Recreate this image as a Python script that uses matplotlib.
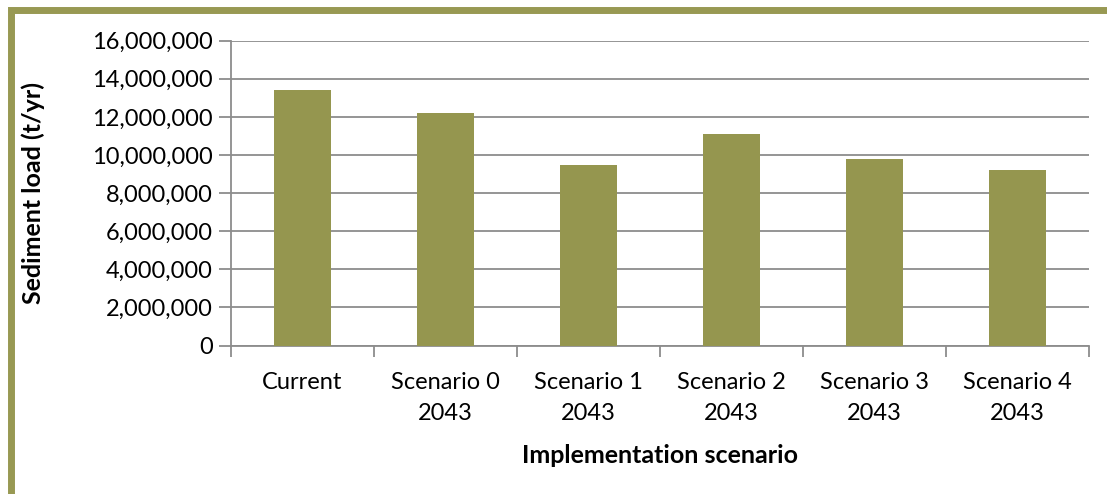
import matplotlib.pyplot as plt
from matplotlib.patches import Rectangle
from matplotlib.ticker import FuncFormatter, FixedLocator

# Data
categories = ["Current", "Scenario 0\n2043", "Scenario 1\n2043",
              "Scenario 2\n2043", "Scenario 3\n2043", "Scenario 4\n2043"]
sediment_load = [13400000, 12200000, 9500000, 11100000, 9800000, 9200000]
y_ticks = [0, 2000000, 4000000, 6000000, 8000000, 10000000,
           12000000, 14000000, 16000000]

plt.rcParams['font.family'] = ['Lato', 'DejaVu Sans']

W, H = 1107, 494
fig = plt.figure(figsize=(W / 100, H / 100), dpi=100)
ax = fig.add_axes([231 / W, 1 - 345.5 / H, (1089 - 231) / W, (345.5 - 40.7) / H])

x = range(len(categories))
ax.bar(x, sediment_load, width=0.4, color="#95964f", zorder=3)

ax.set_xlim(-0.5, len(categories) - 0.5)
ax.set_ylim(0, 16000000)
ax.yaxis.set_major_locator(FixedLocator(y_ticks))
ax.yaxis.set_major_formatter(FuncFormatter(lambda v, p: f"{int(v):,}"))
ax.grid(axis="y", color="#8c8c8c", linewidth=1.3, zorder=0)

ax.set_xticks(list(x))
ax.set_xticklabels(categories, fontsize=17, linespacing=1.6)
ax.tick_params(axis="x", length=0, pad=19)
# tick marks between categories
ax.set_xticks([i - 0.5 for i in range(len(categories) + 1)], minor=True)
ax.tick_params(axis="x", which="minor", length=8, width=1.3, color="#8c8c8c")
ax.tick_params(axis="y", length=9, width=1.3, color="#8c8c8c", labelsize=17, pad=4)

for side in ["top", "right"]:
    ax.spines[side].set_visible(False)
for side in ["left", "bottom"]:
    ax.spines[side].set_color("#8c8c8c")
    ax.spines[side].set_linewidth(1.3)

ax.set_ylabel("Sediment load (t/yr)", fontsize=18, fontweight="bold")
ax.yaxis.set_label_coords(-0.217, 0.5)
ax.set_xlabel("Implementation scenario", fontsize=18, fontweight="bold", labelpad=14)

# olive frame on the left and top
fig.add_artist(Rectangle((10.5 / W, -0.1), 1.2, 1 - 10.5 / H + 0.1,
                         transform=fig.transFigure, fill=False,
                         edgecolor="#989953", linewidth=5.0, clip_on=False))

fig.savefig("out.png", dpi=100)
